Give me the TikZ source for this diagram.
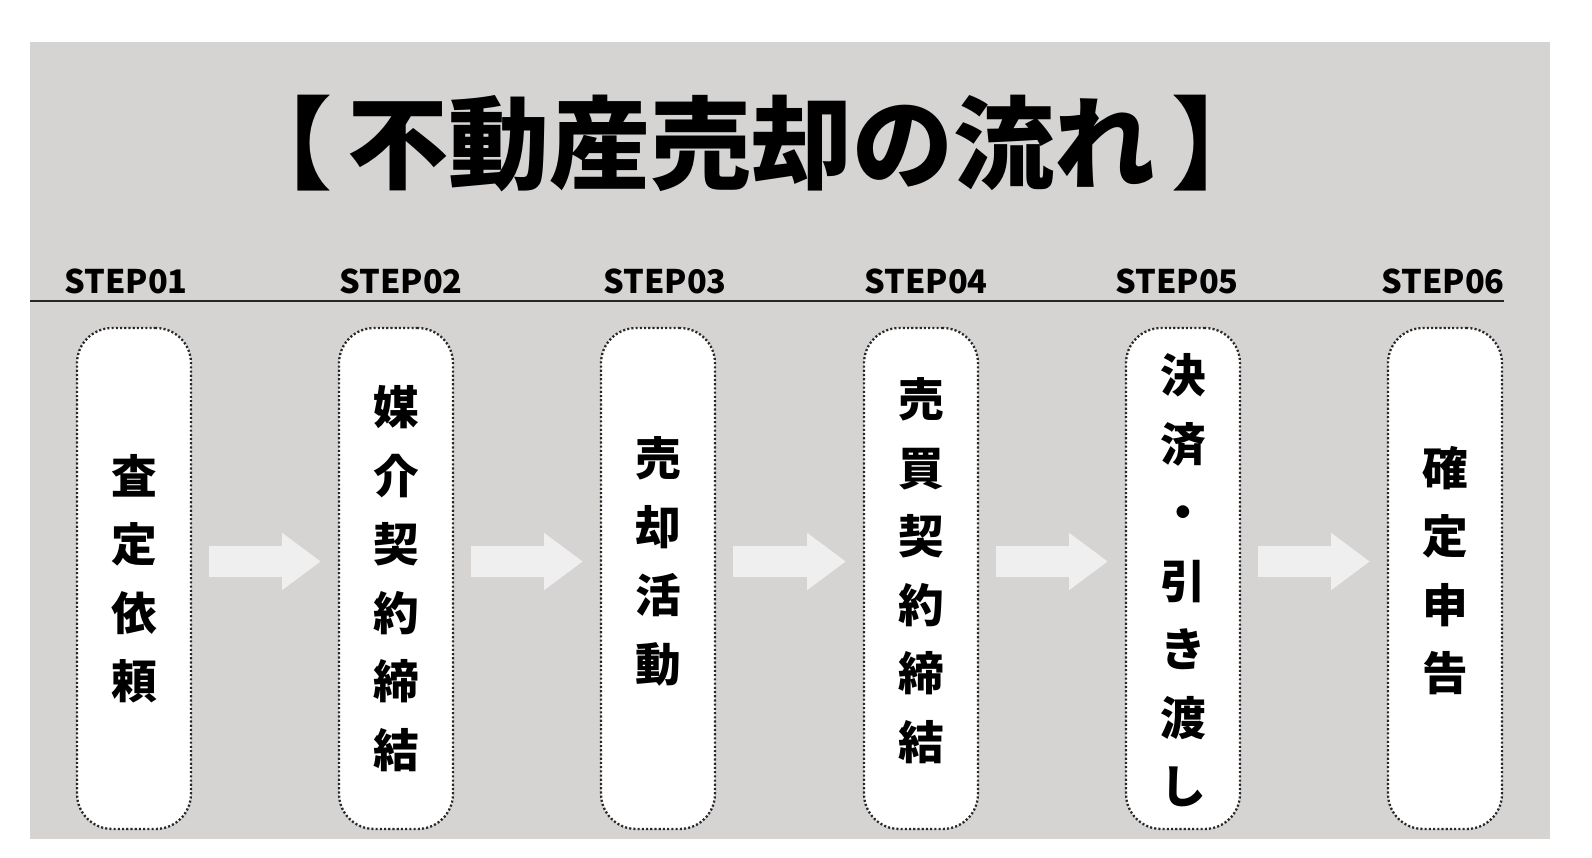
\documentclass[tikz,border=0pt]{standalone}
\usepackage{fontspec}
\newfontfamily\jpfont{Noto Sans CJK JP}
\usetikzlibrary{calc,arrows.meta}
\definecolor{bggray}{RGB}{214,211,211}
\definecolor{arrowgray}{RGB}{239,239,239}
\definecolor{dotgray}{RGB}{40,40,40}
\begin{document}
\begin{tikzpicture}[x=0.02cm,y=-0.02cm]
\tikzstyle{every node}=[font=\jpfont\bfseries]
\tikzstyle{stepbox}=[draw=dotgray, fill=white, line width=1.3pt, dash pattern=on 1.2pt off 1.2pt, rounded corners=20pt, minimum width=2.28cm, minimum height=10.02cm, inner sep=0pt]
\tikzstyle{boxtext}=[font=\jpfont\bfseries\fontsize{26}{39}\selectfont, align=center, inner sep=0pt]
\tikzstyle{steplabel}=[font=\jpfont\bfseries\fontsize{18.5}{20}\selectfont, anchor=base, inner sep=0pt]
\tikzstyle{flowarrow}=[draw=arrowgray, line width=18pt, -{Triangle[length=22pt,width=31pt,fill=arrowgray]}]
\useasboundingbox (0,0) rectangle (1592,858);
\fill[bggray] (30,42) rectangle (1550,839);% gray panel
\coordinate (LineL) at (30,301);
\coordinate (LineR) at (1504,301);
\node[font=\jpfont\bfseries\fontsize{57.5}{60}\selectfont] (title) at (752,144) {【\hspace{0.15em}不動産売却の流れ\hspace{0.15em}】};
\foreach \i/\x in {1/126,2/401,3/665,4/926,5/1177,6/1443}
  \node[steplabel] (step\i) at (\x,294) {STEP0\i};
\draw[line width=1.1pt, black!85] (LineL) -- (LineR);% rule under the labels
\foreach \i/\x/\dy/\txt in {1/134/0/{査\\定\\依\\頼},2/396/0/{媒\\介\\契\\約\\締\\結},3/658/-17/{売\\却\\活\\動},4/921/-8/{売\\買\\契\\約\\締\\結},5/1183/2/{決\\済\\・\\引\\き\\渡\\し},6/1445/-8/{確\\定\\申\\告}}{
  \node[stepbox] (box\i) at (\x,578.5) {};
  \node[boxtext] (txt\i) at ($(box\i.center)+(0,\dy)$) {\txt};
}
\foreach \i [evaluate=\i as \j using int(\i+1)] in {1,...,5}
  \draw[flowarrow] ($(box\i.east)+(17,-17)$) -- ($(box\j.west)+(-17,-17)$);
\end{tikzpicture}
\end{document}
